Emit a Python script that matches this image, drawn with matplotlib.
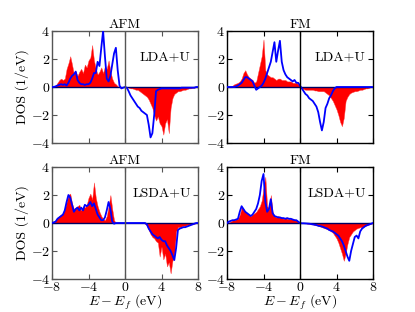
import numpy as np
import matplotlib
matplotlib.use("Agg")
import matplotlib.pyplot as plt

plt.rcParams['font.family'] = 'serif'
plt.rcParams['font.serif'] = ['cmr10']
plt.rcParams['mathtext.fontset'] = 'cm'
plt.rcParams['axes.formatter.use_mathtext'] = True
plt.rcParams['axes.unicode_minus'] = True

# energy grid (eV), -8 .. 8 step 0.2
energy = np.round(np.arange(-8.0, 8.0001, 0.2), 2)

# ---- AFM, LDA+U ----
afm_lda_red = [0, 0, 0.1, 0.3, 0.5, 0.6, 0.5, 0.6, 1.3, 1.7,
               2.2, 1.6, 0.9, 1.1, 0.8, 1.1, 1.3, 1.0, 1.6, 1.4,
               1.9, 2.1, 3.0, 1.9, 1.3, 0.9, 1.1, 1.4, 1.0, 1.5,
               1.3, 1.9, 1.1, 0.6, 0.3, 0.2, 0.05, 0, 0, 0, 0,
               0, -0.05, -0.1, -0.1, -0.15, -0.2, -0.2, -0.3, -0.4, -0.5,
               -0.6, -0.7, -0.9, -1.2, -1.5, -2.0, -2.4, -2.1, -2.6, -2.8,
               -3.4, -2.6, -2.3, -3.3, -1.5, -0.8, -0.5, -0.4, -0.3, -0.3,
               -0.25, -0.2, -0.2, -0.15, -0.1, -0.1, -0.05, -0.05, 0, 0]
afm_lda_blue = [0, 0, 0.05, 0.1, 0.15, 0.2, 0.15, 0.2, 0.1, 0.3,
                0.6, 0.8, 0.9, 1.1, 0.5, 0.3, 0.2, 0.2, 0.15, 0.2,
                0.2, 0.3, 0.6, 1.0, 1.0, 1.8, 1.5, 2.8, 4.0, 2.2,
                0.6, 0.4, 0.8, 1.6, 2.4, 2.8, 1.2, 0.1, -0.1, -0.05, 0,
                -0.05, -0.3, -0.6, -0.8, -1.0, -1.2, -1.4, -1.5, -1.7, -1.8,
                -1.9, -2.0, -2.7, -3.6, -3.3, -2.0, -0.3, -0.2, -0.15, -0.1,
                -0.1, -0.1, -0.1, -0.1, -0.1, -0.1, -0.1, -0.1, -0.1, -0.1,
                -0.05, -0.05, -0.05, -0.05, -0.05, -0.05, -0.05, -0.05, 0, 0]

# ---- FM, LDA+U ----
fm_lda_red = [0, 0, 0.05, 0.1, 0.2, 0.25, 0.3, 0.4, 0.6, 1.0,
              1.2, 0.9, 0.7, 0.6, 0.5, 0.3, 0.4, 1.0, 1.6, 2.2,
              3.4, 1.2, 0.9, 0.8, 0.7, 0.7, 0.6, 0.5, 0.6, 0.6,
              0.5, 0.5, 0.5, 0.4, 0.4, 0.4, 0.3, 0.3, 0.3, 0.2, 0.1,
              -0.1, -0.15, -0.2, -0.2, -0.2, -0.2, -0.2, -0.25, -0.25, -0.3,
              -0.3, -0.3, -0.3, -0.4, -0.5, -0.6, -0.8, -1.0, -1.3, -1.6,
              -2.0, -2.5, -2.8, -2.2, -1.0, -0.7, -0.5, -0.4, -0.35, -0.3,
              -0.3, -0.25, -0.2, -0.2, -0.15, -0.1, -0.1, -0.05, 0, 0]
fm_lda_blue = [0, 0, 0, 0, 0, 0.05, 0.1, 0.2, 0.3, 0.5,
               0.7, 0.7, 0.6, 0.5, 0.4, 0.1, -0.2, -0.1, 0.0, 0.1,
               0.3, 0.6, 1.0, 1.4, 1.8, 2.5, 3.2, 1.8, 2.6, 3.3,
               1.8, 1.2, 0.9, 0.7, 0.6, 0.5, 0.4, 0.5, 0.3, 0.3, 0.1,
               -0.1, -0.3, -0.5, -0.6, -0.8, -0.9, -1.0, -1.2, -1.4, -1.8,
               -2.5, -3.1, -2.5, -1.5, -1.2, -0.8, -0.6, -0.3, -0.1, 0,
               0, 0, 0, 0, 0, 0, 0, 0, 0, 0,
               0, 0, 0, 0, 0, 0, 0, 0, 0, 0]

# ---- AFM, LSDA+U ----
afm_lsda_red = [0, 0.05, 0.2, 0.4, 0.5, 0.6, 0.7, 1.0, 1.5, 2.0,
                2.1, 1.4, 1.0, 1.1, 1.2, 1.3, 0.9, 1.2, 1.1, 1.3,
                1.8, 2.1, 1.7, 2.9, 1.8, 1.2, 0.8, 0.5, 0.3, 0.2,
                0.5, 1.2, 2.0, 1.0, 0.2, 0, 0, 0, 0, 0, 0,
                0, 0, 0, 0, 0, 0, 0, 0, 0, 0,
                -0.05, -0.2, -0.5, -0.8, -1.0, -1.1, -1.3, -1.4, -2.4, -1.7,
                -2.6, -2.2, -3.1, -2.8, -3.6, -2.7, -2.3, -0.6, -0.3, -0.3,
                -0.25, -0.2, -0.2, -0.15, -0.15, -0.1, -0.1, -0.05, 0, 0]
afm_lsda_blue = [0, 0.05, 0.1, 0.3, 0.4, 0.5, 0.6, 0.9, 1.5, 2.0,
                 1.8, 1.3, 0.8, 1.0, 1.1, 0.9, 1.1, 0.9, 1.3, 1.2,
                 1.3, 1.5, 1.2, 1.4, 1.0, 0.6, 0.4, 0.2, 0.2, 0.4,
                 0.9, 1.5, 1.0, 0.1, -0.05, 0, 0, 0, 0, 0, 0,
                 0, 0, 0, 0, 0, 0, 0, 0, 0, 0,
                 0, -0.1, -0.4, -0.6, -0.8, -0.9, -1.0, -1.1, -1.0, -1.2,
                 -1.3, -1.3, -1.6, -1.8, -2.0, -2.3, -2.65, -1.8, -0.5, -0.4,
                 -0.35, -0.3, -0.3, -0.25, -0.2, -0.15, -0.1, -0.05, 0, 0]

# ---- FM, LSDA+U ----
fm_lsda_red = [0, 0.05, 0.1, 0.2, 0.2, 0.3, 0.3, 0.6, 1.1, 1.0,
               0.8, 0.7, 0.6, 0.5, 0.6, 0.7, 0.8, 1.0, 1.2, 1.6,
               2.5, 3.3, 1.2, 1.0, 2.0, 0.8, 0.5, 0.4, 0.5, 0.4,
               0.4, 0.3, 0.4, 0.3, 0.3, 0.3, 0.3, 0.25, 0.2, 0.1, 0,
               0, 0, 0, -0.05, -0.05, -0.1, -0.1, -0.15, -0.15, -0.2,
               -0.25, -0.3, -0.35, -0.4, -0.45, -0.5, -0.6, -0.7, -0.9, -1.1,
               -1.4, -1.8, -2.2, -2.7, -2.2, -1.5, -1.0, -0.8, -0.6, -0.5,
               -0.4, -0.35, -0.3, -0.3, -0.25, -0.2, -0.15, -0.1, -0.05, 0]
fm_lsda_blue = [0, 0.1, 0.15, 0.2, 0.2, 0.25, 0.3, 0.8, 1.2, 1.0,
                0.8, 0.7, 0.6, 0.5, 0.6, 0.8, 1.0, 1.4, 2.0, 3.0,
                3.5, 1.5, 0.8, 1.0, 1.7, 0.7, 0.5, 0.45, 0.4, 0.4,
                0.35, 0.35, 0.3, 0.35, 0.3, 0.3, 0.25, 0.2, 0.2, 0.1, 0,
                -0.02, -0.02, -0.03, -0.04, -0.05, -0.07, -0.1, -0.12, -0.15, -0.2,
                -0.22, -0.25, -0.3, -0.35, -0.4, -0.5, -0.55, -0.6, -0.7, -0.8,
                -0.9, -1.1, -1.3, -1.6, -2.0, -2.4, -2.7, -2.0, -1.5, -1.0,
                -0.9, -1.1, -0.6, -0.4, -0.3, -0.2, -0.15, -0.1, -0.05, 0]

titles = ["AFM", "FM", "AFM", "FM"]
methods = ["LDA+U", "LDA+U", "LSDA+U", "LSDA+U"]
reds = [afm_lda_red, fm_lda_red, afm_lsda_red, fm_lsda_red]
blues = [afm_lda_blue, fm_lda_blue, afm_lsda_blue, fm_lsda_blue]
xticks = [-8, -4, 0, 4, 8]
yticks = [-4, -2, 0, 2, 4]

W, H = 415, 312
fig = plt.figure(figsize=(W / 100, H / 100), dpi=100)
lefts = [52, 227]
tops = [31, 167]
aw, ah = 146, 112
fs = 10

for k in range(4):
    r, c = divmod(k, 2)
    ax = fig.add_axes([lefts[c] / W, 1 - (tops[r] + ah) / H, aw / W, ah / H])
    sc = '#555555' if c == 0 else 'black'
    ax.fill_between(energy, 0, reds[k], color='#ff0000', lw=0.3,
                    edgecolor='#ff4040', zorder=2)
    ax.axhline(0, color='#000060', lw=1.0, zorder=3)
    ax.plot(energy, blues[k], color='#0000ff', lw=1.3, zorder=4)
    ax.axvline(0, color=sc, lw=1.0, zorder=5)
    ax.set_xlim(-8, 8)
    ax.set_ylim(-4, 4)
    ax.set_xticks(xticks)
    ax.set_yticks(yticks)
    ax.tick_params(direction='in', top=True, right=True, labelsize=fs,
                   length=3.5, width=0.8, color=sc, pad=1.5)
    for s in ax.spines.values():
        s.set_color(sc)
        s.set_linewidth(1.0)
    ax.set_title(titles[k], fontsize=fs, pad=2)
    ax.text(0.95, 0.74, methods[k], transform=ax.transAxes, ha='right',
            va='baseline', fontsize=fs)
    if r == 0:
        ax.set_xticklabels([])
    else:
        ax.set_xlabel(r'$E-E_f$ (eV)', fontsize=fs, labelpad=-1)
    if c == 0:
        ax.set_ylabel('DOS (1/eV)', fontsize=fs, labelpad=1)

fig.savefig('out.png', dpi=100)
